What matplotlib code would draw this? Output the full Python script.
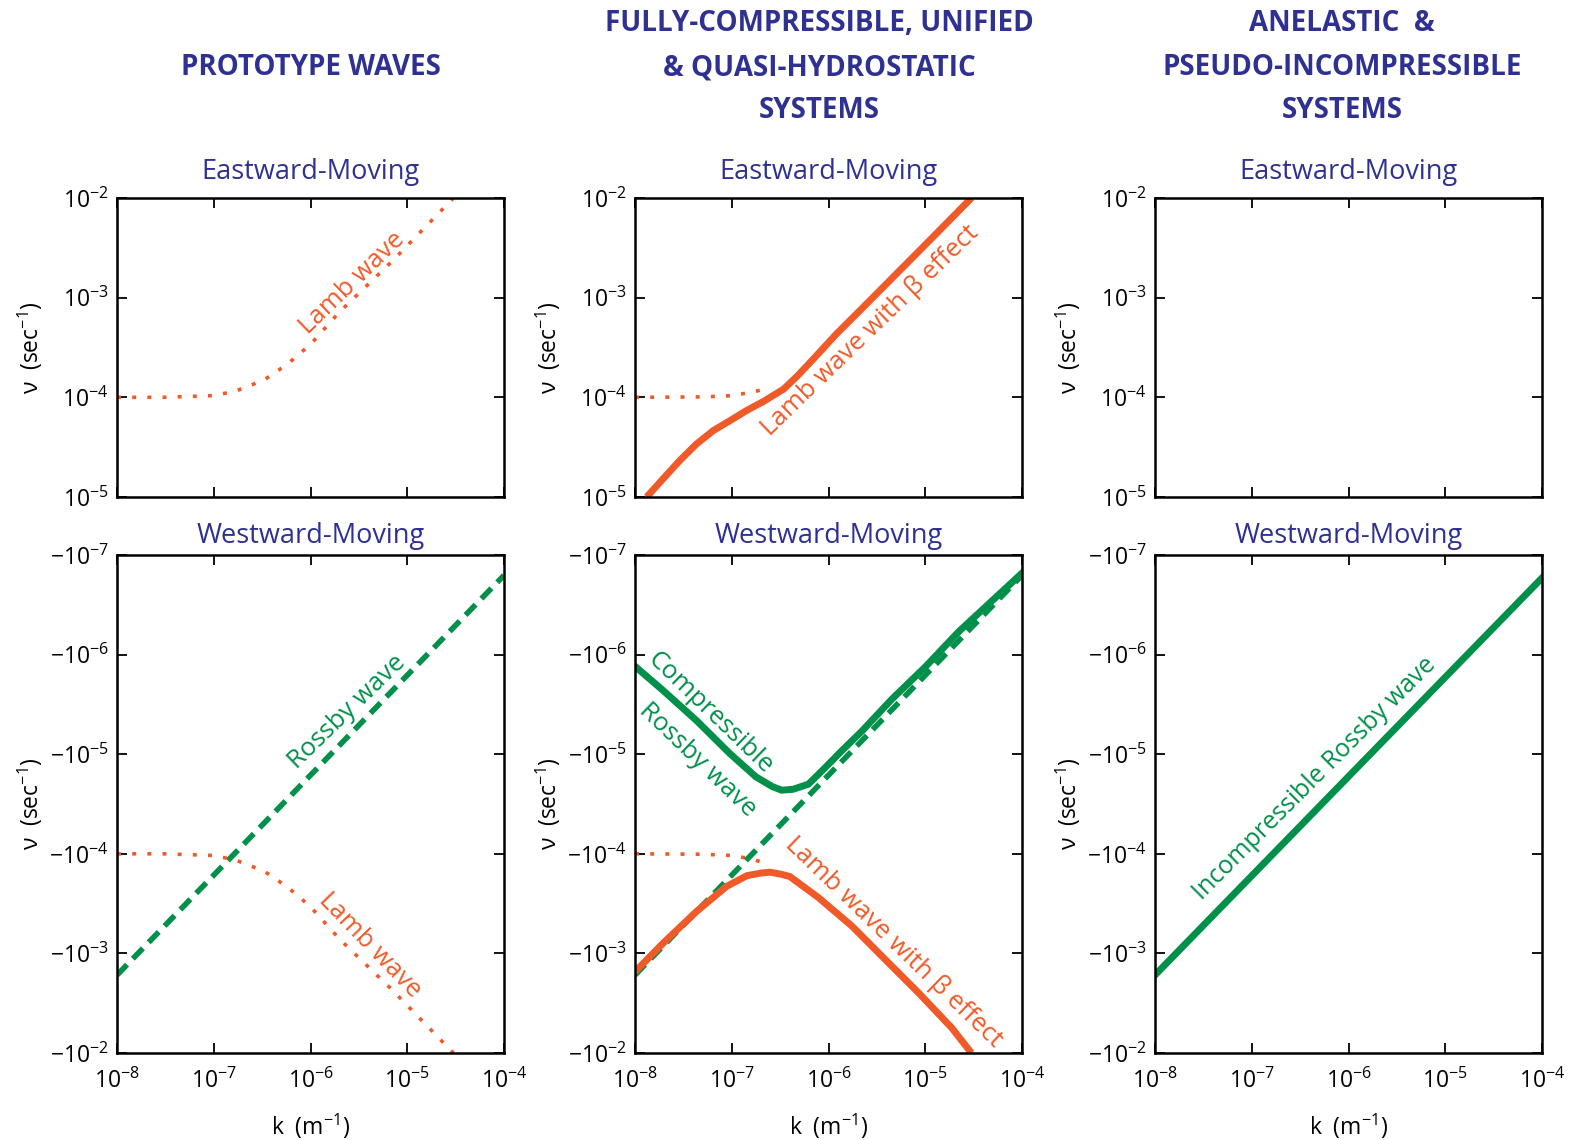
import numpy as np
import matplotlib.pyplot as plt
from matplotlib.ticker import FixedLocator, FuncFormatter, NullLocator

plt.rcParams['font.family'] = ['Open Sans', 'DejaVu Sans']
plt.rcParams['mathtext.fontset'] = 'custom'
plt.rcParams['mathtext.rm'] = 'Open Sans'
plt.rcParams['mathtext.it'] = 'Open Sans:italic'
plt.rcParams['mathtext.bf'] = 'Open Sans:bold'

# --- data (k in m^-1, nu in s^-1; westward = negative) ---
k_lamb = [1e-8, 3e-8, 1e-7, 1.7e-7, 3.3e-7, 5.8e-7, 1e-6, 2e-6, 7e-6, 2.4e-5, 3e-5]
nu_lamb_east = [1e-4, 1e-4, 1.04e-4, 1.16e-4, 1.49e-4, 2.16e-4, 3.4e-4, 7.2e-4, 2.33e-3, 8e-3, 1e-2]
nu_lamb_west = [-v for v in nu_lamb_east]

k_lamb_short = [1e-8, 5e-8, 1e-7, 1.4e-7, 2e-7, 2.4e-7]
nu_lamb_short_east = [1e-4, 1.01e-4, 1.04e-4, 1.1e-4, 1.18e-4, 1.24e-4]
nu_lamb_short_west = [-1e-4, -1.01e-4, -1.04e-4, -1.1e-4, -1.2e-4, -1.3e-4]

k_rossby = [1e-8, 1e-4]
nu_rossby = [-1.65e-3, -1.6e-7]

k_lamb_beta_east = [1.32e-8, 1.96e-8, 2.91e-8, 4.33e-8, 6.45e-8, 9.6e-8, 1.43e-7,
                    2.13e-7, 3.44e-7, 4.8e-7, 6.9e-7, 1.2e-6, 2.25e-6, 4.96e-6,
                    1.09e-5, 3e-5]
nu_lamb_beta_east = [1e-5, 1.53e-5, 2.33e-5, 3.41e-5, 4.64e-5, 5.84e-5, 7.4e-5,
                     9.1e-5, 1.21e-4, 1.65e-4, 2.4e-4, 4.3e-4, 7.9e-4, 1.71e-3,
                     3.69e-3, 1e-2]

k_comp_rossby = [1e-8, 1.95e-8, 4.3e-8, 9.5e-8, 1.78e-7, 2.64e-7, 3.29e-7, 4.3e-7,
                 6.2e-7, 9e-7, 1.37e-6, 2.22e-6, 4.52e-6, 1e-5, 2.21e-5, 1e-4]
nu_comp_rossby = [-1.31e-6, -2.29e-6, -4.57e-6, -9.8e-6, -1.69e-5, -2.12e-5, -2.3e-5,
                  -2.25e-5, -2.0e-5, -1.4e-5, -9.25e-6, -5.85e-6, -2.8e-6, -1.33e-6,
                  -5.9e-7, -1.52e-7]

k_lamb_beta_west = [1e-8, 1.95e-8, 4.3e-8, 8.8e-8, 1.43e-7, 2e-7, 2.48e-7, 3.2e-7,
                    3.98e-7, 7.9e-7, 1.74e-6, 3.85e-6, 8.53e-6, 1.88e-5, 3e-5]
nu_lamb_beta_west = [-1.53e-3, -7.9e-4, -3.81e-4, -2.13e-4, -1.66e-4, -1.56e-4,
                     -1.53e-4, -1.6e-4, -1.69e-4, -2.76e-4, -5.3e-4, -1.15e-3,
                     -2.49e-3, -5.6e-3, -1e-2]

k_incomp = [1e-8, 1e-4]
nu_incomp = [-1.65e-3, -1.7e-7]

x_ticks = [1e-8, 1e-7, 1e-6, 1e-5, 1e-4]
y_ticks_east = [1e-5, 1e-4, 1e-3, 1e-2]
y_ticks_west = [1e-7, 1e-6, 1e-5, 1e-4, 1e-3, 1e-2]

headers = [["PROTOTYPE WAVES"],
           ["FULLY-COMPRESSIBLE, UNIFIED", "& QUASI-HYDROSTATIC", "SYSTEMS"],
           ["ANELASTIC  &", "PSEUDO-INCOMPRESSIBLE", "SYSTEMS"]]

ORANGE = '#f05a28'
GREEN = '#00904a'
BLUE = '#2e3192'

W, H = 1574, 1140
fig = plt.figure(figsize=(W / 100, H / 100), dpi=100)


def add_ax(left, top, width, height):
    return fig.add_axes([left / W, 1 - (top + height) / H, width / W, height / H])


def style(ax, west, show_x):
    ax.set_xscale('log')
    ax.set_yscale('log')
    ax.set_xlim(1e-8, 1e-4)
    if west:
        ax.set_ylim(1e-2, 1e-7)
        ax.yaxis.set_major_locator(FixedLocator(y_ticks_west))
        ax.yaxis.set_major_formatter(FuncFormatter(
            lambda v, p: r'$\mathregular{-10^{%d}}$' % round(np.log10(v))))
        ax.set_title('Westward-Moving', color=BLUE, fontsize=19.5, pad=9)
    else:
        ax.set_ylim(1e-5, 1e-2)
        ax.yaxis.set_major_locator(FixedLocator(y_ticks_east))
        ax.yaxis.set_major_formatter(FuncFormatter(
            lambda v, p: r'$\mathregular{10^{%d}}$' % round(np.log10(v))))
        ax.set_title('Eastward-Moving', color=BLUE, fontsize=19.5, pad=14)
    ax.xaxis.set_major_locator(FixedLocator(x_ticks))
    ax.xaxis.set_major_formatter(FuncFormatter(
        lambda v, p: r'$\mathregular{10^{%d}}$' % round(np.log10(v))))
    ax.xaxis.set_minor_locator(NullLocator())
    ax.yaxis.set_minor_locator(NullLocator())
    ax.tick_params(direction='in', length=7, width=1.3, top=True, right=True,
                   labelsize=16.5, labelbottom=show_x)
    ax.tick_params(axis='x', pad=11)
    ax.tick_params(axis='y', pad=6)
    for s in ax.spines.values():
        s.set_linewidth(1.8)
    ax.set_ylabel(r'ν  (sec$\mathregular{^{-1}}$)', fontsize=16.5)
    ax.yaxis.set_label_coords(-0.187, 0.5)
    if show_x:
        ax.set_xlabel(r'k  (m$\mathregular{^{-1}}$)', fontsize=16.5, labelpad=13)


def neg(v):
    return [-x for x in v]


dotted = (0, (1.1, 3.1))
dashed = (0, (2.6, 1.5))
col_left = [117, 635, 1155]
axw = 387

axes_top = [add_ax(l, 198, axw, 299) for l in col_left]
axes_bot = [add_ax(l, 555, axw, 498) for l in col_left]
for ax in axes_top:
    style(ax, False, False)
for ax in axes_bot:
    style(ax, True, True)

# prototype waves
ax = axes_top[0]
ax.plot(k_lamb, nu_lamb_east, color=ORANGE, lw=2.6, ls=dotted)
ax.text(2.7e-6, 1.4e-3, 'Lamb wave', color=ORANGE, fontsize=18.5, rotation=44,
        ha='center', va='center')

ax = axes_bot[0]
ax.plot(k_rossby, neg(nu_rossby), color=GREEN, lw=4.0, ls=dashed)
ax.plot(k_lamb, neg(nu_lamb_west), color=ORANGE, lw=2.6, ls=dotted)
ax.text(2.4e-6, 3.8e-6, 'Rossby wave', color=GREEN, fontsize=18.5, rotation=44,
        ha='center', va='center')
ax.text(4.1e-6, 8.2e-4, 'Lamb wave', color=ORANGE, fontsize=18.5, rotation=-46,
        ha='center', va='center')

# fully compressible
ax = axes_top[1]
ax.plot(k_lamb_short, nu_lamb_short_east, color=ORANGE, lw=2.6, ls=dotted)
ax.plot(k_lamb_beta_east, nu_lamb_beta_east, color=ORANGE, lw=5.0,
        solid_capstyle='butt', solid_joinstyle='round')
ax.text(2.65e-6, 4.7e-4, 'Lamb wave with β effect', color=ORANGE, fontsize=18.5,
        rotation=44, ha='center', va='center')

ax = axes_bot[1]
ax.plot(k_lamb_short, neg(nu_lamb_short_west), color=ORANGE, lw=2.6, ls=dotted)
ax.plot(k_rossby, neg(nu_rossby), color=GREEN, lw=4.0, ls=dashed)
ax.plot(k_comp_rossby, neg(nu_comp_rossby), color=GREEN, lw=5.0,
        solid_joinstyle='round')
ax.plot(k_lamb_beta_west, neg(nu_lamb_beta_west), color=ORANGE, lw=5.0,
        solid_capstyle='butt', solid_joinstyle='round')
ax.text(6.0e-8, 3.9e-6, 'Compressible', color=GREEN, fontsize=18.5, rotation=-44,
        ha='center', va='center')
ax.text(4.4e-8, 1.14e-5, 'Rossby wave', color=GREEN, fontsize=18.5, rotation=-44,
        ha='center', va='center')
ax.text(4.7e-6, 7.7e-4, 'Lamb wave with β effect', color=ORANGE, fontsize=18.5,
        rotation=-44, ha='center', va='center')

# anelastic
ax = axes_bot[2]
ax.plot(k_incomp, neg(nu_incomp), color=GREEN, lw=5.0)
ax.text(4.5e-7, 1.75e-5, 'Incompressible Rossby wave', color=GREEN,
        fontsize=18, rotation=45, ha='center', va='center')

# column headers
centers = [311, 819, 1342]
rows_base = [31, 75, 118]
for cx, lines in zip(centers, headers):
    ys = [75] if len(lines) == 1 else rows_base
    for y, line in zip(ys, lines):
        fig.text(cx / W, 1 - y / H, line, color=BLUE, fontsize=20,
                 fontweight='bold', ha='center', va='baseline')

fig.savefig('out.png', dpi=100)
